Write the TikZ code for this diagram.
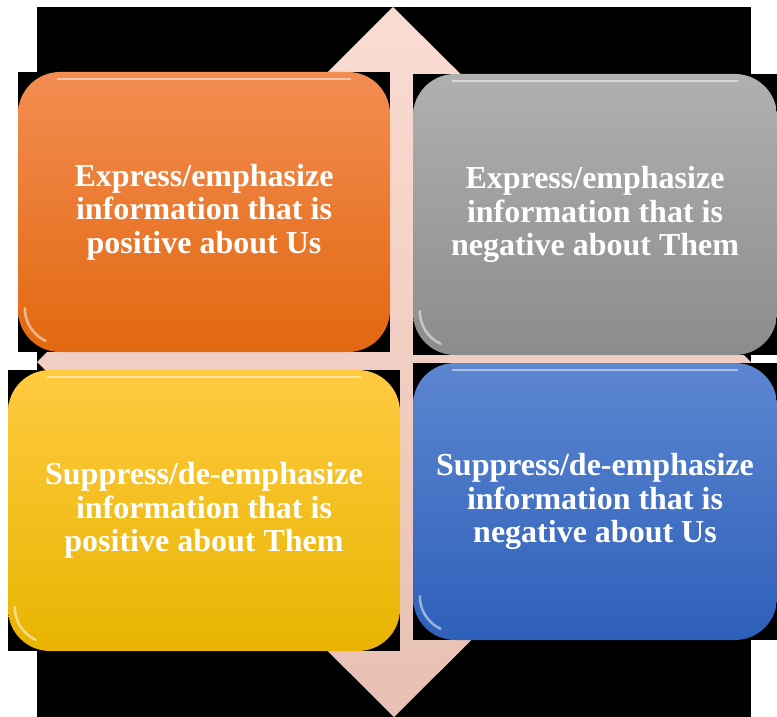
\documentclass[tikz,border=0pt]{standalone}
\usepackage{fontspec}
\setmainfont{Liberation Serif}
\begin{document}
\begin{tikzpicture}[
  x=1pt, y=-1pt,
  quad/.style={rectangle, rounded corners=42pt, inner sep=0pt, text=white,
    font=\fontsize{32}{33.5}\selectfont\bfseries, align=center},
  gloss/.style={draw=white, line width=2.5pt, line cap=round, opacity=0.5}
]
  \useasboundingbox (0,0) rectangle (777,717);
  \fill[white] (0,0) rectangle (777,717);

  % Fondo del rombo (caja negra y rombo rosado)
  \fill[black] (37,7) rectangle (751,717);
  \shade[top color={rgb,255:red,250;green,220;blue,210}, bottom color={rgb,255:red,232;green,192;blue,180}]
    (393,7) -- (751,362) -- (394,717) -- (37,362) -- cycle;

  % Cajas negras detras de cada cuadrante
  \fill[black] (18,72) rectangle (390,352);
  \fill[black] (413,74) rectangle (777,355);
  \fill[black] (8,370) rectangle (400,651);
  \fill[black] (413,363) rectangle (777,640);

  % Cuadrantes
  \node[quad, minimum width=372pt, minimum height=280pt,
    top color={rgb,255:red,243;green,141;blue,82}, bottom color={rgb,255:red,226;green,104;blue,16}]
    (posus) at (204,212) {Express/emphasize\\information that is\\positive about Us};
  \node[quad, minimum width=364pt, minimum height=281pt,
    top color={rgb,255:red,176;green,176;blue,176}, bottom color={rgb,255:red,140;green,140;blue,140}]
    (negthem) at (595,214.5) {Express/emphasize\\information that is\\negative about Them};
  \node[quad, minimum width=392pt, minimum height=281pt,
    top color={rgb,255:red,255;green,202;blue,64}, bottom color={rgb,255:red,232;green,180;blue,0}]
    (posthem) at (204,510.5) {Suppress/de-emphasize\\information that is\\positive about Them};
  \node[quad, minimum width=364pt, minimum height=277pt,
    top color={rgb,255:red,92;green,134;blue,208}, bottom color={rgb,255:red,46;green,96;blue,186}]
    (negus) at (595,501.5) {Suppress/de-emphasize\\information that is\\negative about Us};

  % Brillo superior e inferior
  \foreach \q in {posus,negthem,posthem,negus} {
    \draw[gloss] ([shift={(40,7)}]\q.north west) -- ([shift={(-40,7)}]\q.north east);
    \draw[gloss] ([shift={(7,-44)}]\q.south west) arc[start angle=180, end angle=115, radius=36];
  }
\end{tikzpicture}
\end{document}
